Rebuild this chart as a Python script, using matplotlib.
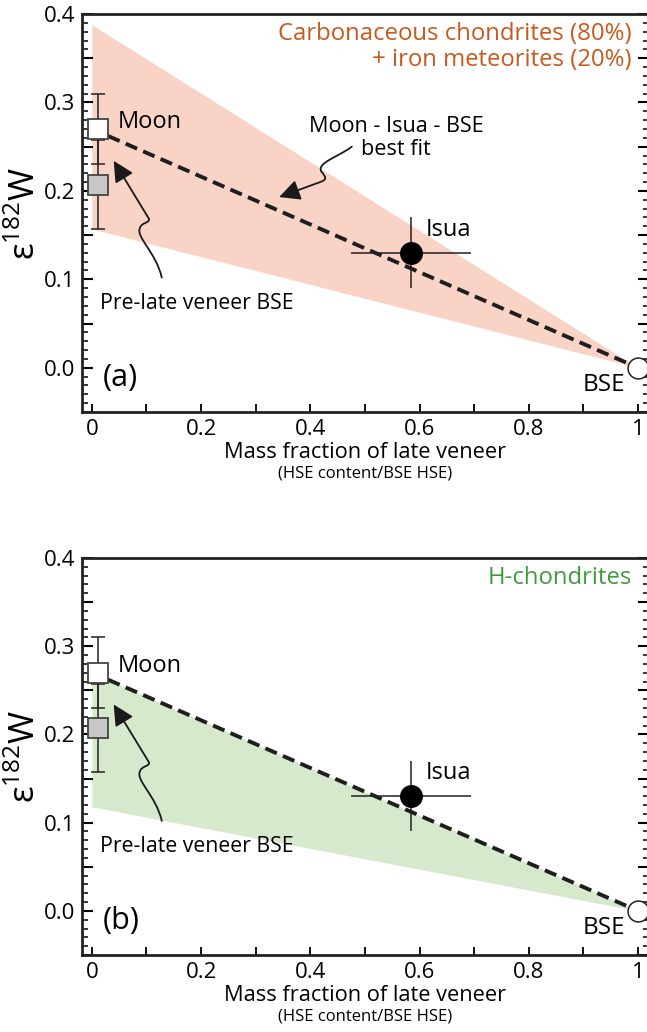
import matplotlib
matplotlib.use('Agg')
import matplotlib.pyplot as plt
from matplotlib.patches import FancyArrowPatch
from matplotlib.path import Path
from matplotlib.ticker import MultipleLocator, FixedLocator
import numpy as np

plt.rcParams['font.family'] = ['Open Sans', 'DejaVu Sans']
plt.rcParams['mathtext.fontset'] = 'custom'
plt.rcParams['mathtext.rm'] = 'Open Sans'

# data
moon_x, moon_y, moon_err = 0.012, 0.270, 0.040
pre_x, pre_y, pre_err = 0.012, 0.207, 0.050
isua_x, isua_y, isua_xerr, isua_yerr = 0.585, 0.130, 0.110, 0.040
bse_x, bse_y = 1.0, 0.0
fit_x = [0.03, 1.0]
fit_y = [0.262, 0.0]
band_x = [0.0, 1.0]
band_a_upper = [0.388, 0.0]
band_a_lower = [0.157, 0.0]
band_b_upper = [0.270, 0.0]
band_b_lower = [0.118, 0.0]
xticks = [0, 0.2, 0.4, 0.6, 0.8, 1.0]
xticklabels = ['0', '0.2', '0.4', '0.6', '0.8', '1']


def squiggle_arrow(ax, verts, codes):
    p = FancyArrowPatch(path=Path(verts, codes), arrowstyle='-|>,head_length=0.9,head_width=0.45',
                        mutation_scale=14, color='#1a1a1a', lw=1.3, zorder=6)
    ax.add_patch(p)


def draw_panel(ax, upper, lower, fill_col, title, title_col, letter, show_fit_note):
    ax.fill_between(band_x, lower, upper, color=fill_col, lw=0, zorder=1)
    ax.plot(fit_x, fit_y, color='#1e1e1e', lw=2.8, ls=(0, (3.2, 1.7)), zorder=2)

    ax.errorbar([moon_x], [moon_y], yerr=[moon_err], fmt='none', ecolor='#222222',
                elinewidth=1.1, capsize=5, capthick=1.1, zorder=3)
    ax.errorbar([pre_x], [pre_y], yerr=[pre_err], fmt='none', ecolor='#222222',
                elinewidth=1.1, capsize=5, capthick=1.1, zorder=3)
    ax.errorbar([isua_x], [isua_y], xerr=[isua_xerr], yerr=[isua_yerr], fmt='none',
                ecolor='#222222', elinewidth=1.1, capsize=0, zorder=3)

    ax.plot([moon_x], [moon_y], 's', ms=14.5, mfc='white', mec='#444444', mew=1.3, zorder=4)
    ax.plot([pre_x], [pre_y], 's', ms=14.5, mfc='#c8c8c8', mec='#444444', mew=1.3, zorder=4)
    ax.plot([isua_x], [isua_y], 'o', ms=15.5, mfc='black', mec='black', zorder=4)
    ax.plot([bse_x], [bse_y], 'o', ms=15, mfc='white', mec='#222222', mew=1.1, zorder=5,
            clip_on=False)

    ax.text(0.048, 0.278, 'Moon', fontsize=17, va='center', ha='left')
    ax.text(0.612, 0.156, 'Isua', fontsize=17, va='center', ha='left')
    ax.text(0.976, -0.019, 'BSE', fontsize=17.5, va='center', ha='right')
    ax.text(0.020, -0.011, letter, fontsize=22, va='center', ha='left')
    ax.text(0.015, 0.073, 'Pre-late veneer BSE', fontsize=15.3, va='center', ha='left')
    ax.text(0.989, 0.391, title, fontsize=17.2, va='top', ha='right', color=title_col,
            multialignment='right', linespacing=1.1)

    # arrow to the pre-late veneer point
    squiggle_arrow(ax,
                   [(0.128, 0.102), (0.118, 0.130), (0.080, 0.148), (0.088, 0.158),
                    (0.092, 0.165), (0.104, 0.163), (0.105, 0.168), (0.040, 0.234)],
                   [Path.MOVETO, Path.CURVE4, Path.CURVE4, Path.CURVE4,
                    Path.CURVE4, Path.CURVE4, Path.CURVE4, Path.LINETO])

    if show_fit_note:
        ax.text(0.557, 0.260, 'Moon - Isua - BSE\nbest fit', fontsize=15.6, va='center',
                ha='center', linespacing=1.12)
        squiggle_arrow(ax,
                       [(0.476, 0.250), (0.450, 0.238), (0.412, 0.232), (0.420, 0.222),
                        (0.428, 0.216), (0.432, 0.213), (0.418, 0.210), (0.343, 0.193)],
                       [Path.MOVETO, Path.CURVE4, Path.CURVE4, Path.CURVE4,
                        Path.CURVE4, Path.CURVE4, Path.CURVE4, Path.LINETO])

    ax.set_xlim(-0.018, 1.02)
    ax.set_ylim(-0.05, 0.4)
    ax.xaxis.set_major_locator(FixedLocator(xticks))
    ax.set_xticklabels(xticklabels)
    ax.xaxis.set_minor_locator(MultipleLocator(0.1))
    ax.yaxis.set_major_locator(MultipleLocator(0.05))
    ax.yaxis.set_minor_locator(MultipleLocator(0.01))
    ax.yaxis.set_major_formatter(plt.FuncFormatter(
        lambda v, p: ('%.1f' % v) if abs(v * 10 - round(v * 10)) < 1e-6 else ''))
    ax.tick_params(axis='x', which='both', direction='in', length=6, width=1.3,
                   labelsize=16, pad=5, top=False)
    ax.tick_params(axis='y', which='major', direction='in', length=8, width=1.5,
                   labelsize=16, left=True, right=True, pad=5)
    ax.tick_params(axis='y', which='minor', direction='in', length=4.5, width=1.1,
                   left=True, right=True)
    for s in ax.spines.values():
        s.set_linewidth(2.0)
        s.set_color('#222222')

    ax.text(0.5, -0.096, 'Mass fraction of late veneer', fontsize=15.7, ha='center',
            va='center')
    ax.text(0.5, -0.1195, '(HSE content/BSE HSE)', fontsize=12, ha='center',
            va='center')
    ax.set_ylabel('ε$^{\\mathregular{182}}$W', fontsize=25, labelpad=2)


fig = plt.figure(figsize=(6.47, 10.32), dpi=100)
W, H = 647.0, 1032.0
ax1 = fig.add_axes([82 / W, 1 - 412 / H, 567 / W, 398 / H])
ax2 = fig.add_axes([82 / W, 1 - 955 / H, 567 / W, 397 / H])

draw_panel(ax1, band_a_upper, band_a_lower, '#fad3c7',
           'Carbonaceous chondrites (80%)\n+ iron meteorites (20%)', '#c8581c', '(a)', True)
draw_panel(ax2, band_b_upper, band_b_lower, '#d6e9cc', 'H-chondrites', '#3c9c3c', '(b)',
           False)

for ax in (ax1, ax2):
    ax.yaxis.set_label_coords(-0.068, 0.5)
    for t in ax.texts:
        t.set_clip_on(False)

fig.savefig('out.png', dpi=100)
